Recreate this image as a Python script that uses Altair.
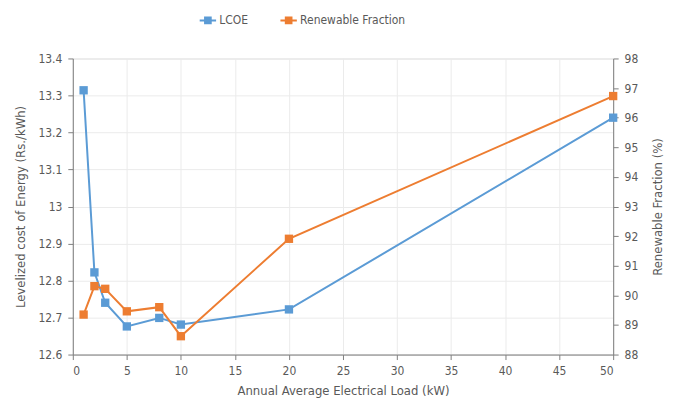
import altair as alt
import pandas as pd

load_kw = [1, 2, 3, 5, 8, 10, 20, 50]
lcoe = [13.314, 12.822, 12.74, 12.676, 12.699, 12.681, 12.722, 13.24]
renewable = [89.35, 90.31, 90.22, 89.46, 89.6, 88.62, 91.91, 96.73]
series_names = ["LCOE", "Renewable Fraction"]
colors = ["#5B9BD5", "#ED7D31"]
lcoe_ticks = [12.6, 12.7, 12.8, 12.9, 13.0, 13.1, 13.2, 13.3, 13.4]
rf_ticks = [88, 89, 90, 91, 92, 93, 94, 95, 96, 97, 98]
x_ticks = list(range(0, 55, 5))

FONT = "Liberation Sans Narrow, DejaVu Sans Condensed, sans-serif"
TXT = "#595959"

df1 = pd.DataFrame({"load": load_kw, "value": lcoe, "series": series_names[0]})
df2 = pd.DataFrame({"load": load_kw, "value": renewable, "series": series_names[1]})

color = alt.Color(
    "series:N",
    scale=alt.Scale(domain=series_names, range=colors),
    legend=alt.Legend(
        title=None,
        orient="none",
        legendX=128,
        legendY=-46,
        direction="horizontal",
        symbolType="M-1.3,0L1.3,0M-0.45,-0.45L0.45,-0.45L0.45,0.45L-0.45,0.45Z",
        symbolSize=160,
        symbolStrokeWidth=2,
        labelFont=FONT,
        labelFontSize=12,
        labelColor=TXT,
        columnPadding=28,
    ),
)

xenc = alt.X(
    "load:Q",
    scale=alt.Scale(domain=[0, 50], nice=False),
    axis=alt.Axis(
        values=x_ticks,
        title="Annual Average Electrical Load (kW)",
        titleFontWeight="normal",
        titleFontSize=13,
        titleFont=FONT,
        titleColor=TXT,
        labelFont=FONT,
        labelFontSize=12,
        labelColor=TXT,
        labelPadding=6,
        titlePadding=8,
        gridColor="#ebebeb",
        domainColor="#808080",
        tickColor="#808080",
        tickSize=5,
    ),
)

layer1 = alt.Chart(df1).mark_line(
    strokeWidth=2,
    point=alt.OverlayMarkDef(shape="square", size=70, filled=True),
).encode(
    x=xenc,
    y=alt.Y(
        "value:Q",
        scale=alt.Scale(domain=[12.6, 13.4], nice=False, zero=False),
        axis=alt.Axis(
            values=lcoe_ticks,
            format=".1~f",
            title="Levelized cost of Energy (Rs./kWh)",
            titleFontWeight="normal",
            titleFontSize=13,
            titleFont=FONT,
            titleColor=TXT,
            labelFont=FONT,
            labelFontSize=12,
            labelColor=TXT,
            labelPadding=6,
            titlePadding=10,
            gridColor="#ebebeb",
            domainColor="#808080",
            tickColor="#808080",
            tickSize=5,
        ),
    ),
    color=color,
)

layer2 = alt.Chart(df2).mark_line(
    strokeWidth=2,
    point=alt.OverlayMarkDef(shape="square", size=70, filled=True),
).encode(
    x=xenc,
    y=alt.Y(
        "value:Q",
        scale=alt.Scale(domain=[88, 98], nice=False, zero=False),
        axis=alt.Axis(
            orient="right",
            values=rf_ticks,
            grid=False,
            title="Renewable Fraction (%)",
            titleAngle=270,
            titleBaseline="top",
            titleFontWeight="normal",
            titleFontSize=13,
            titleFont=FONT,
            titleColor=TXT,
            labelFont=FONT,
            labelFontSize=12,
            labelColor=TXT,
            labelPadding=6,
            titlePadding=14,
            domainColor="#808080",
            tickColor="#808080",
            tickSize=5,
        ),
    ),
    color=color,
)

chart = (
    alt.layer(layer1, layer2)
    .resolve_scale(y="independent")
    .properties(
        width=542,
        height=297,
        autosize=alt.AutoSizeParams(type="none"),
        padding={"left": 65, "top": 50, "right": 52, "bottom": 55},
    )
    .configure_view(stroke="#808080", strokeWidth=1)
    .configure(background="white")
)

chart.save("out.html", embed_options={"renderer": "svg", "actions": False})
